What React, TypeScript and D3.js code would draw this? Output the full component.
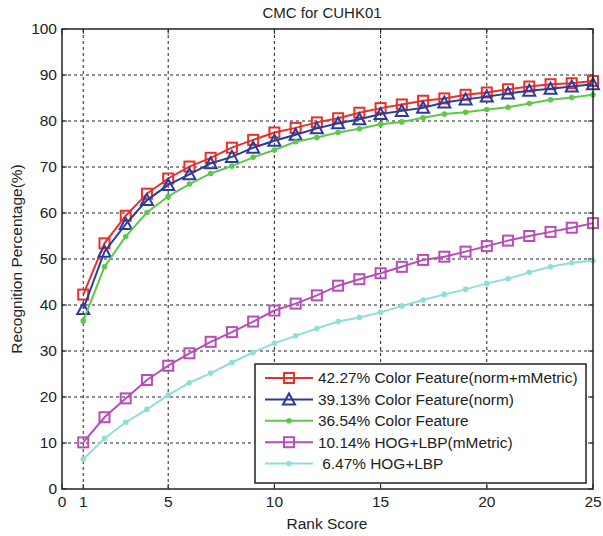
import React from "react";
import * as d3 from "d3";

const ranks = d3.range(1, 26);
const redVals = [42.27, 53.4, 59.4, 64.2, 67.5, 70.1, 72.0, 74.2, 75.9, 77.5, 78.5, 79.7, 80.6, 81.8, 82.8, 83.6, 84.4, 84.9, 85.7, 86.2, 86.9, 87.5, 88.0, 88.2, 88.7];
const blueVals = [39.13, 51.6, 57.6, 62.8, 66.1, 68.4, 70.8, 72.2, 74.2, 75.7, 77.0, 78.4, 79.5, 80.4, 81.5, 82.2, 82.9, 84.0, 84.7, 85.3, 86.0, 86.6, 87.0, 87.5, 88.0];
const greenVals = [36.54, 48.3, 54.9, 60.1, 63.6, 66.3, 68.6, 70.2, 72.1, 73.7, 75.5, 76.4, 77.5, 78.3, 79.3, 79.8, 80.7, 81.5, 81.9, 82.5, 83.0, 83.8, 84.6, 85.1, 85.7];
const magentaVals = [10.14, 15.6, 19.7, 23.7, 26.8, 29.5, 32.0, 34.1, 36.4, 38.8, 40.3, 42.1, 44.2, 45.6, 46.9, 48.3, 49.8, 50.5, 51.6, 52.8, 54.0, 55.0, 55.9, 56.8, 57.8];
const cyanVals = [6.47, 11.0, 14.5, 17.3, 20.4, 23.1, 25.2, 27.5, 29.7, 31.7, 33.3, 34.9, 36.4, 37.3, 38.4, 39.8, 41.1, 42.3, 43.4, 44.7, 45.7, 47.1, 48.3, 49.2, 49.6];

const seriesNames = [
  "42.27% Color Feature(norm+mMetric)",
  "39.13% Color Feature(norm)",
  "36.54% Color Feature",
  "10.14% HOG+LBP(mMetric)",
  " 6.47% HOG+LBP",
];
const seriesColors = ["#e8302a", "#2b3c9e", "#5dc84a", "#b84cb8", "#8edfd8"];
const seriesMarkers = ["square", "triangle", "dot", "square", "dot"];
const seriesValues = [redVals, blueVals, greenVals, magentaVals, cyanVals];

const xTicks = [0, 1, 5, 10, 15, 20, 25];
const xGrid = [1, 5, 10, 15, 20];
const yTicks = [0, 10, 20, 30, 40, 50, 60, 70, 80, 90, 100];

const W = 603, H = 536;
const L = 62, R = 593, T = 29, B = 489;
const FONT = "'Liberation Sans', Arial, sans-serif";

function Marker({ type, x, y, color }: { type: string; x: number; y: number; color: string }) {
  if (type === "square") {
    return <rect x={x - 5} y={y - 5} width={10} height={10} fill="none" stroke={color} strokeWidth={2} />;
  }
  if (type === "triangle") {
    const p = d3.path();
    p.moveTo(x, y - 6);
    p.lineTo(x + 6, y + 5);
    p.lineTo(x - 6, y + 5);
    p.closePath();
    return <path d={p.toString()} fill="none" stroke={color} strokeWidth={2} />;
  }
  return <circle cx={x} cy={y} r={2.8} fill={color} />;
}

export default function App() {
  const x = d3.scaleLinear().domain([0, 25]).range([L, R]);
  const y = d3.scaleLinear().domain([0, 100]).range([B, T]);
  const line = d3.line<number>().x((_, i) => x(ranks[i])).y((v) => y(v));

  const legX = 255, legY = 364, legW = 331, legH = 119;
  const rowH = 21.4;

  return (
    <svg width={W} height={H} style={{ position: "absolute", left: 0, top: 0, background: "#fff" }} fontFamily={FONT}>
      <rect x={0} y={0} width={W} height={H} fill="#fff" />
      {/* grid */}
      {yTicks.filter((t) => t > 0 && t < 100).map((t) => (
        <line key={"gy" + t} x1={L} x2={R} y1={y(t)} y2={y(t)} stroke="#222" strokeWidth={1} strokeDasharray="3,3" />
      ))}
      {xGrid.map((t) => (
        <line key={"gx" + t} x1={x(t)} x2={x(t)} y1={T} y2={B} stroke="#222" strokeWidth={1} strokeDasharray="3,3" />
      ))}
      {/* ticks inward */}
      {yTicks.map((t) => (
        <g key={"ty" + t}>
          <line x1={L} x2={L + 5} y1={y(t)} y2={y(t)} stroke="#222" />
          <line x1={R} x2={R - 5} y1={y(t)} y2={y(t)} stroke="#222" />
          <text x={L - 5} y={y(t)} dy="0.35em" textAnchor="end" fontSize={15.5} fill="#222">{t}</text>
        </g>
      ))}
      {xTicks.map((t) => (
        <g key={"tx" + t}>
          <line x1={x(t)} x2={x(t)} y1={B} y2={B - 5} stroke="#222" />
          <line x1={x(t)} x2={x(t)} y1={T} y2={T + 5} stroke="#222" />
          <text x={x(t)} y={B + 18} textAnchor="middle" fontSize={15.5} fill="#222">{t}</text>
        </g>
      ))}
      {/* series */}
      {seriesValues.map((vals, si) => (
        <g key={"s" + si}>
          <path d={line(vals) || ""} fill="none" stroke={seriesColors[si]} strokeWidth={2} />
          {vals.map((v, i) => (
            <Marker key={i} type={seriesMarkers[si]} x={x(ranks[i])} y={y(v)} color={seriesColors[si]} />
          ))}
        </g>
      ))}
      {/* frame */}
      <rect x={L} y={T} width={R - L} height={B - T} fill="none" stroke="#222" strokeWidth={1.5} />
      {/* legend */}
      <rect x={legX} y={legY} width={legW} height={legH} fill="#fff" stroke="#222" strokeWidth={1.5} />
      {seriesNames.map((name, i) => {
        const ly = legY + 14 + i * rowH;
        return (
          <g key={"l" + i}>
            <line x1={265} x2={313} y1={ly} y2={ly} stroke={seriesColors[i]} strokeWidth={2} />
            <Marker type={seriesMarkers[i]} x={289} y={ly} color={seriesColors[i]} />
            <text x={318} y={ly} dy="0.35em" fontSize={15.4} fill="#222" style={{ whiteSpace: "pre" }}>{name}</text>
          </g>
        );
      })}
      {/* titles */}
      <text x={322} y={18} textAnchor="middle" fontSize={15} fill="#222">CMC for CUHK01</text>
      <text x={327} y={529} textAnchor="middle" fontSize={15.5} fill="#222">Rank Score</text>
      <text transform={`translate(22,${(T + B) / 2}) rotate(-90)`} textAnchor="middle" fontSize={15.5} fill="#222">Recognition Percentage(%)</text>
    </svg>
  );
}
